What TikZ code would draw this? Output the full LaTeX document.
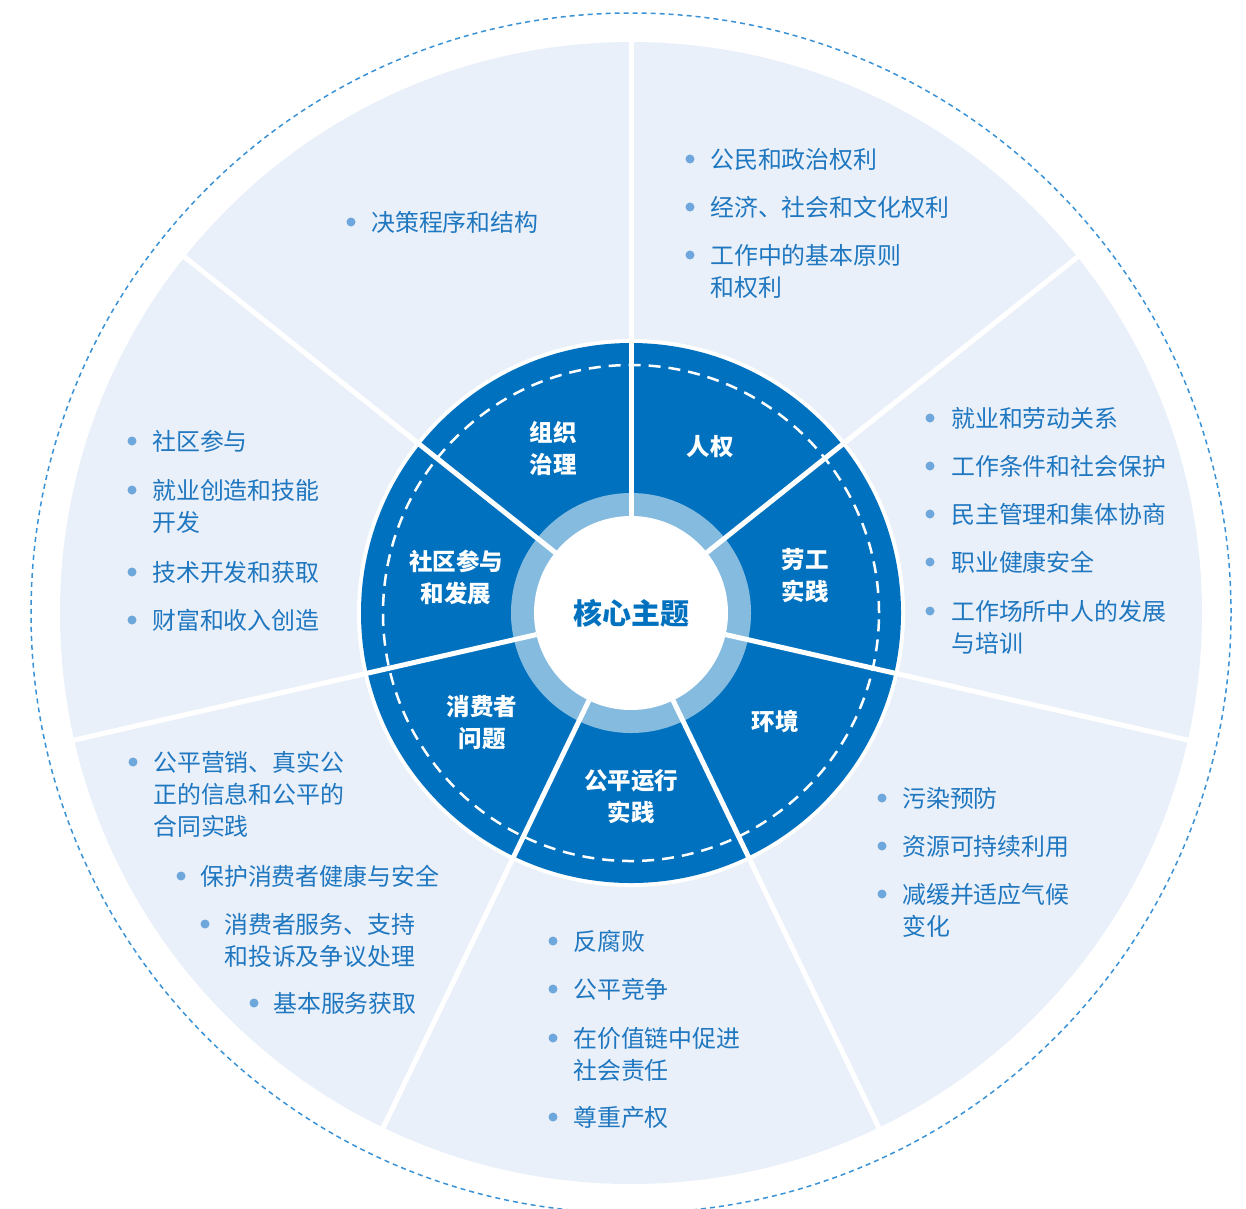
\documentclass[tikz,border=0pt]{standalone}
\usepackage{fontspec}
\setmainfont{Noto Sans CJK SC}
\usetikzlibrary{calc}
\definecolor{darkc}{HTML}{0071BF}
\definecolor{ringc}{HTML}{86BBE0}
\definecolor{outerc}{HTML}{E9F0FA}
\definecolor{textc}{HTML}{1F77C0}
\definecolor{bulletc}{HTML}{6DA7DB}
\definecolor{dashc}{HTML}{3A92D6}
\tikzset{
  bul/.style={circle, fill=bulletc, minimum size=9pt, inner sep=0pt},
  itm/.style={anchor=base west, align=left, inner sep=0pt, text=textc, font=\fontsize{23.9}{32}\selectfont},
  seglab/.style={text=white, align=center, inner sep=0pt, font=\fontsize{23.5}{32}\selectfont\bfseries},
  sepline/.style={white, line width=5pt},
}
% #1 name, #2 bullet x, #3 text x, #4 first-line centre y, #5 extra lines, #6 text
\newcommand\bitem[6]{%
  \node[bul] (#1b) at (#2,#4) {};
  \node[itm] (#1) at (#3,#4+9+32*#5) {#6};
}
\begin{document}
\begin{tikzpicture}[x=1pt,y=-1pt]
\useasboundingbox (0,0) rectangle (1246,1208);
\clip (0,0) rectangle (1246,1208);
\coordinate (C) at (631,613);
% outer dashed circle
\draw[dashc, line width=1.5pt, dash pattern=on 5pt off 4pt] (C) circle[radius=600pt];
% light outer disc
\fill[outerc] (C) circle[radius=571pt];
% dark disc with white border
\fill[white] (C) circle[radius=274pt];
\fill[darkc] (C) circle[radius=270pt];
\draw[white, line width=2.5pt, dash pattern=on 12pt off 8pt] (C) circle[radius=248pt];
% inner ring
\fill[ringc] (C) circle[radius=120pt];
\fill[white] (C) circle[radius=97pt];
% separators
\foreach \a in {90, 38.571, -12.857, -64.286, -115.714, -167.143, 141.429} {
  \draw[sepline] ($(C)+(\a:97pt)$) -- ($(C)+(\a:572pt)$);
}
% center
\node[text=darkc, font=\fontsize{29}{34}\selectfont\bfseries] (core) at (C) {核心主题};
% segment labels
\node[seglab] (s1) at (553,448) {组织\\治理};
\node[seglab] (s2) at (710,447) {人权};
\node[seglab] (s3) at (805,576) {劳工\\实践};
\node[seglab] (s4) at (775,721) {环境};
\node[seglab] (s5) at (631,797) {公平运行\\实践};
\node[seglab] (s6) at (482,723) {消费者\\问题};
\node[seglab] (s7) at (456,577) {社区参与\\和发展};
% items
\bitem{a1}{351}{371}{222}{0}{决策程序和结构}
\bitem{b1}{690}{710}{159}{0}{公民和政治权利}
\bitem{b2}{690}{710}{207}{0}{经济、社会和文化权利}
\bitem{b3}{690}{710}{255}{1}{工作中的基本原则\\和权利}
\bitem{c1}{930}{951}{418}{0}{就业和劳动关系}
\bitem{c2}{930}{951}{466}{0}{工作条件和社会保护}
\bitem{c3}{930}{951}{514}{0}{民主管理和集体协商}
\bitem{c4}{930}{951}{562}{0}{职业健康安全}
\bitem{c5}{930}{951}{611}{1}{工作场所中人的发展\\与培训}
\bitem{d1}{882}{902}{798}{0}{污染预防}
\bitem{d2}{882}{902}{846}{0}{资源可持续利用}
\bitem{d3}{882}{902}{894}{1}{减缓并适应气候\\变化}
\bitem{e1}{553}{573}{941}{0}{反腐败}
\bitem{e2}{553}{573}{989}{0}{公平竞争}
\bitem{e3}{553}{573}{1038}{1}{在价值链中促进\\社会责任}
\bitem{e4}{553}{573}{1117}{0}{尊重产权}
\bitem{f1}{133}{153}{762}{2}{公平营销、真实公\\正的信息和公平的\\合同实践}
\bitem{f2}{181}{200}{876}{0}{保护消费者健康与安全}
\bitem{f3}{205}{224}{924}{1}{消费者服务、支持\\和投诉及争议处理}
\bitem{f4}{254}{273}{1003}{0}{基本服务获取}
\bitem{g1}{132}{152}{441}{0}{社区参与}
\bitem{g2}{132}{152}{490}{1}{就业创造和技能\\开发}
\bitem{g3}{132}{152}{572}{0}{技术开发和获取}
\bitem{g4}{132}{152}{620}{0}{财富和收入创造}
\end{tikzpicture}
\end{document}
